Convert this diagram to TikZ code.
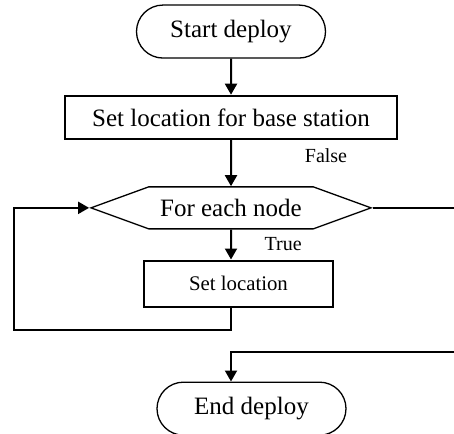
\documentclass[tikz,border=0pt]{standalone}
\usepackage{fontspec}
\setmainfont{Liberation Serif}
\usetikzlibrary{matrix,arrows.meta,shapes.misc,shapes.symbols}

\tikzset{
  startstop/.style={rounded rectangle, draw, line width=0.65pt, minimum width=94.5pt, minimum height=26.5pt, font=\fontsize{12.5}{14}\selectfont},
  process/.style={rectangle, draw, line width=1.25pt, minimum width=166pt, minimum height=21.5pt, font=\fontsize{12.5}{14}\selectfont},
  subprocess/.style={rectangle, draw, line width=1pt, minimum width=94.5pt, minimum height=23pt, font=\fontsize{10.4}{12}\selectfont},
  loopnode/.style={signal, signal to=west and east, signal pointer angle=40, draw, line width=0.65pt, minimum width=140pt, minimum height=21pt, font=\fontsize{12.5}{14}\selectfont},
  branch/.style={font=\fontsize{10}{12}\selectfont},
  flow/.style={line width=1pt}
}

\begin{document}
\begin{tikzpicture}[x=0.5pt, y=-0.5pt, >={Triangle[length=5.5pt,width=6pt]}]
  \useasboundingbox (0,0) rectangle (454,433);
  \matrix (m) [matrix of nodes, row sep=0pt, inner sep=0pt, anchor=north] at (231,4)
  {
    |[startstop]| Start deploy \\[18pt]
    |[process]| Set location for base station \\[23pt]
    |[loopnode]| For each node \\[15pt]
    |[subprocess, xshift=3.75pt]| Set location \\[37pt]
    |[startstop, xshift=10.25pt]| End deploy \\
  };
  \coordinate (falseout) at (454,0);
  \coordinate (falsein) at (454,352);
  \coordinate (loopturn) at (14,330);
  \coordinate (setin) at (m-3-1.south |- m-4-1.north);
  \coordinate (setout) at (m-3-1.south |- m-4-1.south);
  \coordinate (endin) at (m-3-1.south |- m-5-1.north);
  \path[->, flow]
  (m-1-1) edge (m-2-1)
  (m-2-1) edge (m-3-1)
  (m-3-1) edge node [branch, right=13pt] {True} (setin)
          ;
  \node[branch] (falselbl) at (326,156) {False};
  \draw[flow] (m-3-1.east) -- (m-3-1.east -| falseout);
  \draw[->, flow] (falsein) -| (endin);
  \draw[->, flow] (setout) |- (loopturn) |- (m-3-1.west);
\end{tikzpicture}
\end{document}
